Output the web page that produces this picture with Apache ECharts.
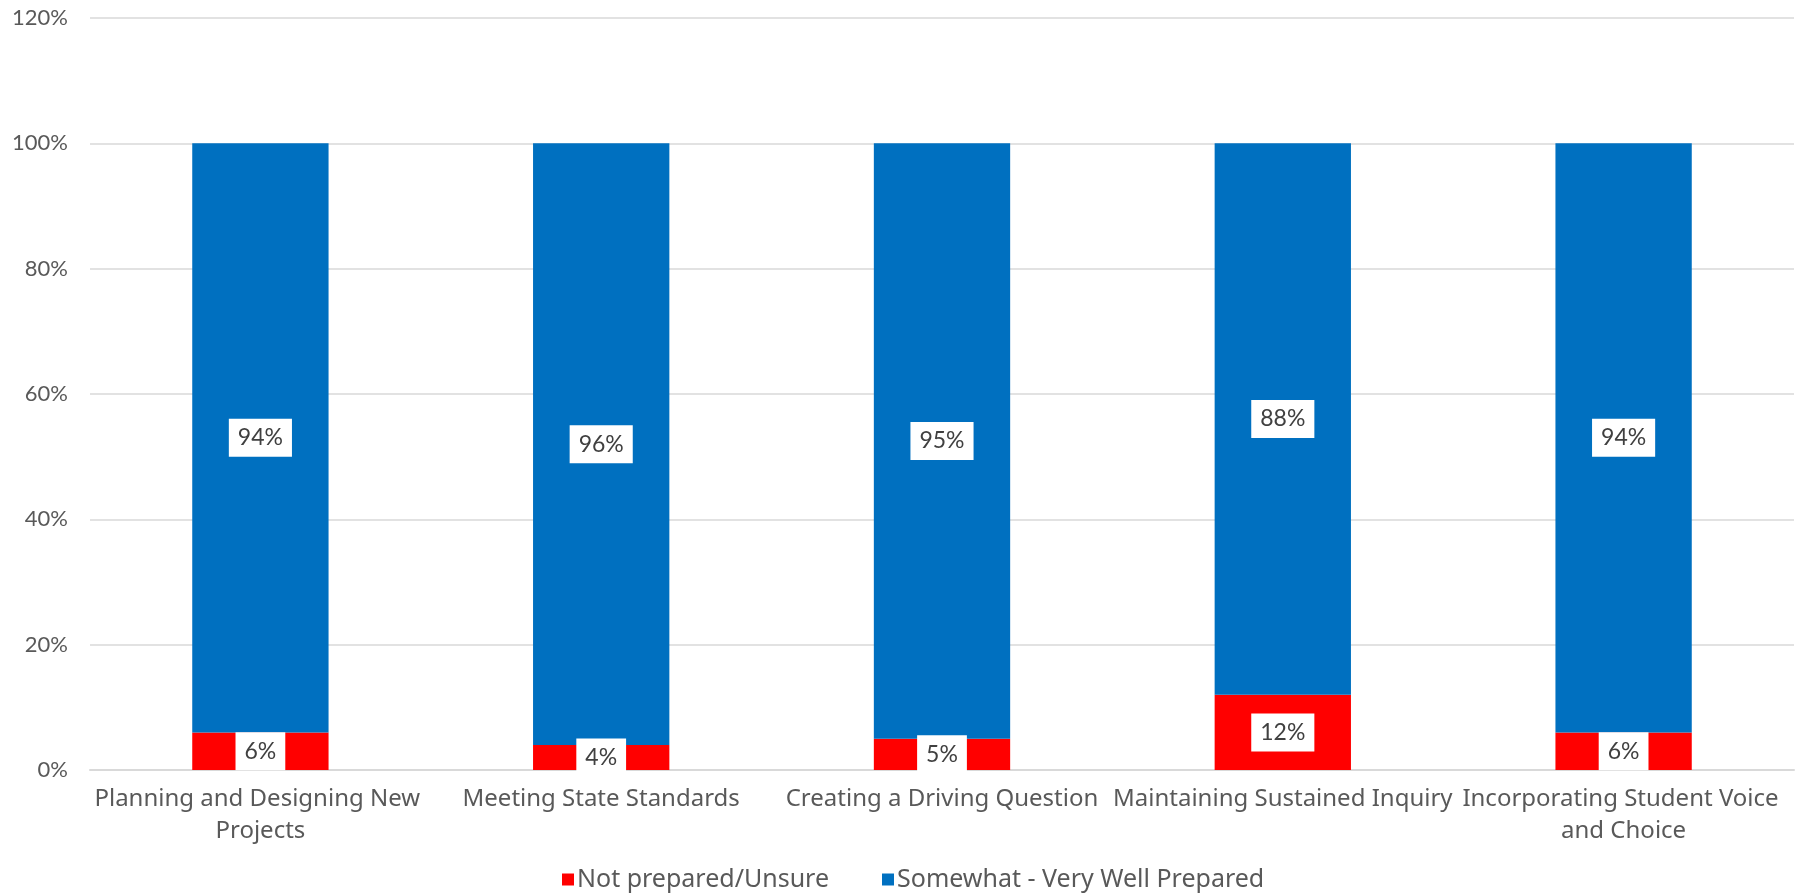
<!DOCTYPE html>
<html>
<head>
<meta charset="utf-8">
<title>Preparedness by PBL practice</title>
<script src="https://cdn.jsdelivr.net/npm/echarts@6/dist/echarts.min.js"></script>
<style>
  html, body { margin: 0; padding: 0; background: #ffffff; }
  #chart { width: 1804px; height: 895px; }
</style>
</head>
<body>
<div id="chart"></div>
<script>
// Practice areas along the x axis
const categories = [
  'Planning and Designing New Projects',
  'Meeting State Standards',
  'Creating a Driving Question',
  'Maintaining Sustained Inquiry',
  'Incorporating Student Voice and Choice'
];

// Share of respondents (%) in each group
const notPrepared = [6, 4, 5, 12, 6];
const wellPrepared = [94, 96, 95, 88, 94];

const seriesNames = ['Not prepared/Unsure', 'Somewhat - Very Well Prepared'];

// Value axis ticks
const yMin = 0;
const yMax = 120;
const yStep = 20;

const FONT = 'Lato, "Noto Sans", sans-serif';
const WIDE_FONT = '"Noto Sans", Lato, sans-serif';

const dataLabel = {
  show: true,
  position: 'inside',
  formatter: p => p.value + '%',
  color: '#404040',
  fontFamily: FONT,
  fontSize: 23,
  backgroundColor: '#ffffff',
  padding: [8, 9, 7, 9]
};

const chart = echarts.init(document.getElementById('chart'), null, { renderer: 'canvas' });

chart.setOption({
  animation: false,
  backgroundColor: '#ffffff',
  grid: { left: 90, right: 10, top: 18, bottom: 125, containLabel: false },
  legend: {
    data: seriesNames,
    top: 867,
    left: 562,
    padding: 0,
    icon: 'rect',
    itemWidth: 12,
    itemHeight: 12,
    itemGap: 53,
    textStyle: { color: '#595959', fontFamily: WIDE_FONT, fontSize: 25, padding: [0, 0, 0, -2] }
  },
  xAxis: {
    type: 'category',
    data: categories,
    axisLine: { show: true, lineStyle: { color: '#d9d9d9', width: 2 } },
    axisTick: { show: false },
    axisLabel: {
      interval: 0,
      color: '#595959',
      fontFamily: WIDE_FONT,
      fontSize: 24,
      margin: 13,
      lineHeight: 32,
      width: 350,
      overflow: 'break'
    }
  },
  yAxis: {
    type: 'value',
    min: yMin,
    max: yMax,
    interval: yStep,
    axisLine: { show: false },
    axisTick: { show: false },
    splitLine: { lineStyle: { color: '#d9d9d9', width: 1.5 } },
    axisLabel: {
      formatter: '{value}%',
      color: '#595959',
      fontFamily: FONT,
      fontSize: 22,
      margin: 22
    }
  },
  series: [
    {
      name: seriesNames[0],
      type: 'bar',
      stack: 'total',
      data: notPrepared,
      barWidth: '40%',
      itemStyle: { color: '#ff0000' },
      label: dataLabel
    },
    {
      name: seriesNames[1],
      type: 'bar',
      stack: 'total',
      data: wellPrepared,
      barWidth: '40%',
      itemStyle: { color: '#0070c0' },
      label: dataLabel
    }
  ]
});
</script>
</body>
</html>
